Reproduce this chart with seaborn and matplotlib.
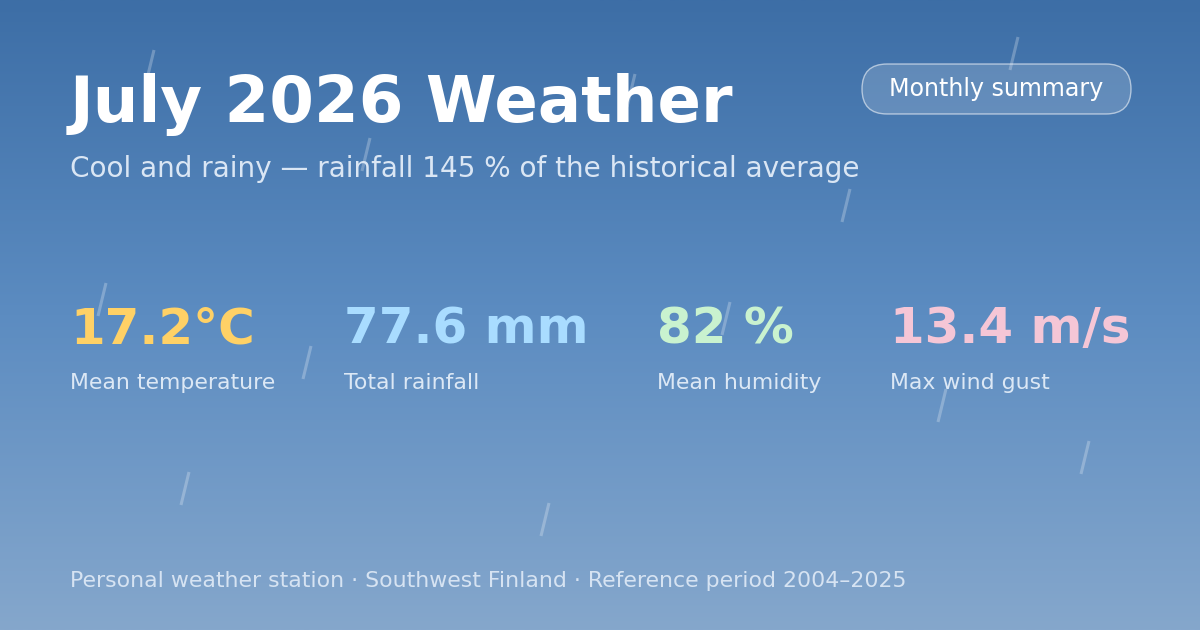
"""July 2026 weather summary card."""

import matplotlib.pyplot as plt
import numpy as np
import pandas as pd
import seaborn as sns
from matplotlib.colors import LinearSegmentedColormap
from matplotlib.patches import FancyBboxPatch

sns.set_style("white")
plt.rcParams["font.family"] = ["DejaVu Sans"]

W, H = 1200, 630

title = "July 2026 Weather"
subtitle = "Cool and rainy \u2014 rainfall 145 % of the historical average"
badge = "Monthly summary"
footer = "Personal weather station \u00b7 Southwest Finland \u00b7 Reference period 2004\u20132025"

stat_values = ["17.2\u00b0C", "77.6 mm", "82 %", "13.4 m/s"]
stat_labels = ["Mean temperature", "Total rainfall", "Mean humidity", "Max wind gust"]
stat_colors = ["#ffd166", "#a9dcff", "#c9f2cf", "#f5c6d6"]
stat_x = [70, 344, 657, 890]

# rain streaks: top end of each drop
rain_x = [154, 370, 635, 1018, 850, 106, 311, 730, 946, 1089, 189, 549]
rain_y = [50, 138, 74, 37, 189, 283, 346, 302, 389, 441, 472, 503]
drop_dx, drop_dy = -8, 33

fig = plt.figure(figsize=(W / 100, H / 100), dpi=100)
ax = fig.add_axes([0, 0, 1, 1])

# background gradient
sky = LinearSegmentedColormap.from_list(
    "sky", [(0.0, "#3d6ea6"), (0.5, "#5c8cc1"), (1.0, "#85a7cc")]
)
grad = np.linspace(0, 1, 256)[:, None]
ax.imshow(grad, cmap=sky, extent=[0, W, H, 0], aspect="auto", zorder=0)

# rain drops
drops = pd.DataFrame(
    {
        "x": np.concatenate([rain_x, np.array(rain_x) + drop_dx]),
        "y": np.concatenate([rain_y, np.array(rain_y) + drop_dy]),
        "drop": list(range(len(rain_x))) * 2,
    }
)
sns.lineplot(
    data=drops,
    x="x",
    y="y",
    units="drop",
    estimator=None,
    sort=False,
    color="white",
    alpha=0.25,
    linewidth=2.2,
    solid_capstyle="butt",
    ax=ax,
    zorder=1,
)

ax.text(70, 122, title, fontsize=46.2, fontweight="bold", color="white",
        va="baseline", zorder=3)
ax.text(70, 177, subtitle, fontsize=20.1, color="#dae6f4",
        va="baseline", zorder=3)

pill = FancyBboxPatch(
    (862, 64), 269, 50,
    boxstyle="round,pad=0,rounding_size=25",
    facecolor=(1, 1, 1, 0.16),
    edgecolor=(1, 1, 1, 0.55),
    linewidth=1,
    zorder=2,
)
ax.add_patch(pill)
ax.text(996.5, 89, badge, fontsize=17.1, color="white",
        ha="center", va="center", zorder=3)

for x, val, lab, col in zip(stat_x, stat_values, stat_labels, stat_colors):
    ax.text(x, 343, val, fontsize=35.9, fontweight="bold", color=col,
            va="baseline", zorder=3)
    ax.text(x, 389, lab, fontsize=15.85, color="#dce8f5",
            va="baseline", zorder=3)

ax.text(70, 587, footer, fontsize=15.8, color="#d6e3f2",
        va="baseline", zorder=3)

ax.set_xlim(0, W)
ax.set_ylim(H, 0)
ax.axis("off")

fig.savefig("out.png", dpi=100)
